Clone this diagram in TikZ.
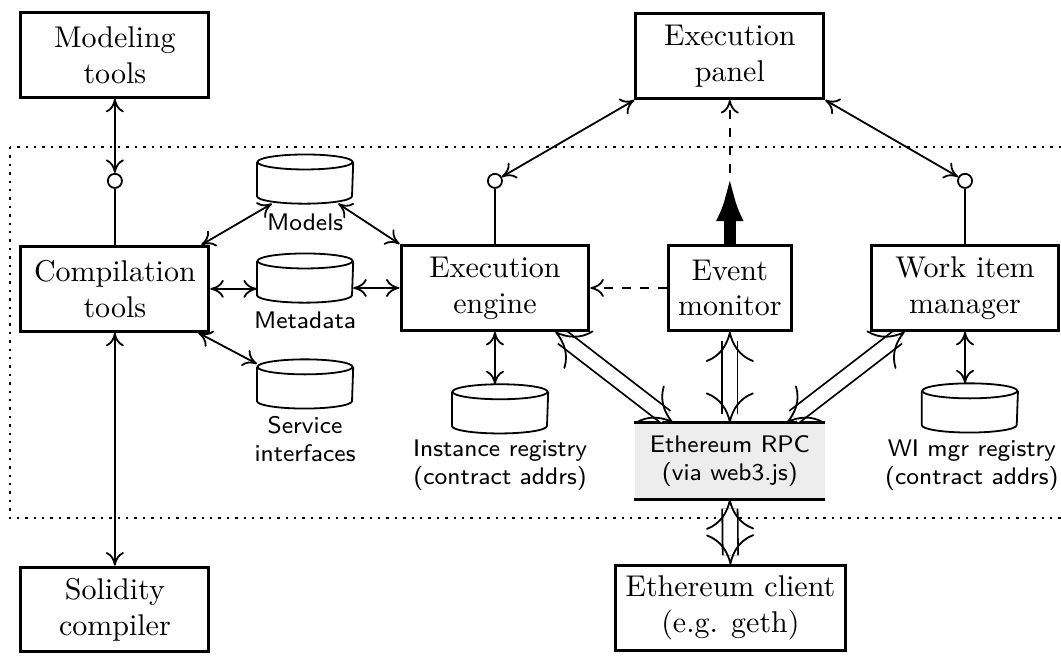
\documentclass[tikz,border=0pt]{standalone}
\usetikzlibrary{arrows.meta,decorations.markings}

\tikzset{
block/.style={
  rectangle,
  draw,
  line width=1pt,
  align=center,
  minimum width=62.6pt,
  minimum height=28.3pt,
},
store/.style={
  rectangle,
  draw=none,
  minimum width=31.7pt,
  minimum height=16pt,
  inner sep=0pt,
},
storetext/.style={
  rectangle,
  draw=none,
  align=center,
  inner sep=0pt,
  font=\footnotesize\sffamily,
},
port/.style={
  circle,
  draw,
  semithick,
  fill=white,
  minimum size=4.7pt,
  inner sep=0pt,
},
link/.style={semithick},
pipetip/.tip={Computer Modern Rightarrow[length=10pt,width=16pt,line width=0.6pt]},
pipe/.style={semithick,
  postaction={draw, double, double distance=4.5pt, shorten <=3pt, shorten >=3pt},
  postaction={decorate, decoration={markings,
    mark=at position 0 with {\arrowreversed{pipetip}},
    mark=at position 1 with {\arrow{pipetip}}}}},
}

\begin{document}
\begin{tikzpicture}[x=1em, y=1em, >={Computer Modern Rightarrow[length=4.5pt,width=6pt]}]
\useasboundingbox (0,0) rectangle (35.37,-21.87);
%dotted frame
\draw[dotted, thick] (0.33,-4.9) rectangle (36,-17.27);

%outer blocks
\node[block](modeling) at (3.83,-1.83) {Modeling\\tools};
\node[block](panel) at (24.33,-1.87) {Execution\\panel};
\node[block](solidity) at (3.83,-20.32) {Solidity\\compiler};
\node[block](client) at (24.35,-20.28) {Ethereum client\\(e.g. geth)};

%inner blocks
\node[block](comp) at (3.83,-9.63) {Compilation\\tools};
\node[block](engine) at (16.5,-9.6) {Execution\\engine};
\node[block, minimum width=0pt](monitor) at (24.33,-9.6) {Event\\monitor};
\node[block](wim) at (32.17,-9.6) {Work item\\manager};

%ports
\node[port](pcomp) at (3.83,-6.03) {};
\node[port](peng) at (16.5,-6.03) {};
\node[port](pwim) at (32.17,-6.03) {};

%stores
\node[store](models) at (10.17,-5.97) {};
\node[storetext](modelslbl) at (10.17,-7.4) {Models};
\node[store](meta) at (10.17,-9.27) {};
\node[storetext](metalbl) at (10.17,-10.67) {Metadata};
\node[store](service) at (10.17,-12.8) {};
\node[storetext](servicelbl) at (10.17,-14.63) {Service\\interfaces};
\node[store](instreg) at (16.67,-13.63) {};
\node[storetext](instreglbl) at (16.67,-15.5) {Instance registry\\(contract addrs)};
\node[store](wimreg) at (32.33,-13.6) {};
\node[storetext](wimreglbl) at (32.4,-15.5) {WI mgr registry\\(contract addrs)};
\foreach \s in {models,meta,service,instreg,wimreg}{
  \draw[semithick] ([yshift=-0.25em]\s.north) ellipse [x radius=1.585, y radius=0.25];
  \draw[semithick] ([yshift=-0.25em]\s.north west) -- ([yshift=0.25em]\s.south west)
    arc [start angle=180, end angle=360, x radius=1.585, y radius=0.25]
    -- ([yshift=-0.25em]\s.north east);
}

%rpc
\node[rectangle, fill=black!7, align=center, font=\footnotesize\sffamily, minimum width=63.3pt, minimum height=25.3pt](rpc) at (24.33,-15.37) {Ethereum RPC\\(via web3.js)};
\draw[thick] (rpc.north west) -- (rpc.north east);
\draw[thick] (rpc.south west) -- (rpc.south east);
\coordinate (mtip) at (24.33,-5.77);

%connectors
\draw[link,<->] (modeling) -- (pcomp);
\draw[link] (pcomp) -- (comp);
\draw[link,<->] (comp) -- (solidity);
\draw[link,<->] ([xshift=-0.3em]comp.north east) -- ([xshift=0.5em]models.south west);
\draw[link,<->] (comp.east) -- (comp.east -| meta.west);
\draw[link,<->] (meta.east |- engine.west) -- (engine.west);
\draw[link,<->] ([xshift=-0.4em]comp.south east) -- ([yshift=-0.15em]service.north west);
\draw[link,<->] ([xshift=-0.5em]models.south east) -- (engine.north west);
\draw[link] (peng) -- (engine);
\draw[link,<->] (panel.south west) -- (peng);
\draw[link,<->] (panel.south east) -- (pwim);
\draw[link] (pwim) -- (wim);
\draw[line width=4pt, -{Latex[length=16pt,width=9pt]}] (monitor.north) -- (mtip);
\draw[link,dashed,->] (mtip) -- (panel.south);
\draw[link,dashed,->] (monitor.west) -- (engine.east);
\draw[link,<->] (engine.south) -- (engine.south |- instreg.north);
\draw[link,<->] (wim.south) -- (wim.south |- wimreg.north);
\path[pipe] (engine.-36) -- ([xshift=-1.9em]rpc.north);
\path[pipe] (monitor.south) -- (rpc.north);
\path[pipe] (wim.216) -- ([xshift=1.9em]rpc.north);
\path[pipe] (rpc.south) -- (client.north);
\end{tikzpicture}
\end{document}
